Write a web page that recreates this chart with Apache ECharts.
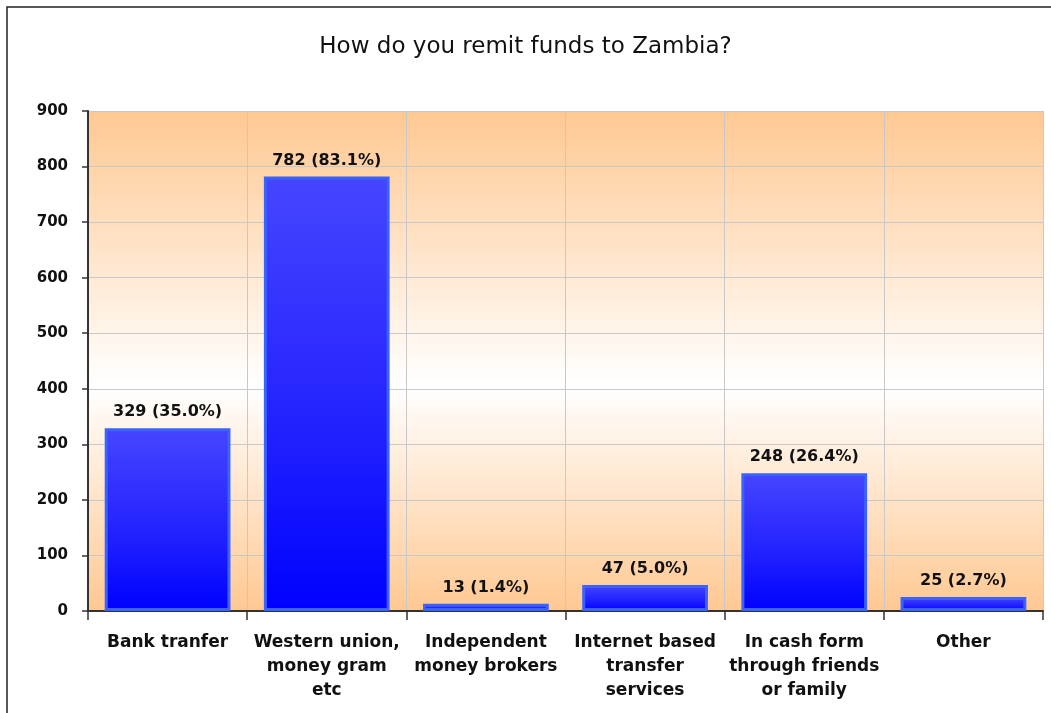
<!DOCTYPE html>
<html>
<head>
<meta charset="utf-8">
<script src="https://cdn.jsdelivr.net/npm/echarts@6/dist/echarts.min.js"></script>
<style>
  html, body { margin: 0; padding: 0; background: #fff; }
  #chart { width: 1051px; height: 713px; }
</style>
</head>
<body>
<div id="chart"></div>
<script>
// survey answers
var categories = [
    "Bank tranfer",
    "Western union,\nmoney gram\netc",
    "Independent\nmoney brokers",
    "Internet based\ntransfer\nservices",
    "In cash form\nthrough friends\nor family",
    "Other"
];
var counts = [329, 782, 13, 47, 248, 25];
var percents = ["35.0%", "83.1%", "1.4%", "5.0%", "26.4%", "2.7%"];
var yTicks = [0, 100, 200, 300, 400, 500, 600, 700, 800, 900];

var chart = echarts.init(document.getElementById("chart"));

var peach = "#FFC892";

chart.setOption({
    animation: false,
    backgroundColor: "#fff",
    title: {
        text: "How do you remit funds to Zambia?",
        left: "center",
        top: 31,
        textStyle: {
            fontFamily: "DejaVu Sans",
            fontWeight: "normal",
            fontSize: 23,
            color: "#111"
        }
    },
    graphic: [{
        type: "rect",
        shape: { x: 7, y: 7, width: 1200, height: 900 },
        style: { fill: "none", stroke: "#222", lineWidth: 1.5 },
        silent: true
    }],
    grid: {
        left: 88,
        right: 8,
        top: 111,
        bottom: 102,
        show: true,
        borderWidth: 0,
        backgroundColor: new echarts.graphic.LinearGradient(0, 0, 0, 1, [
            { offset: 0, color: peach },
            { offset: 0.55, color: "#FFFFFF" },
            { offset: 1, color: peach }
        ])
    },
    xAxis: {
        type: "category",
        data: categories,
        axisLine: { lineStyle: { color: "#333", width: 2 } },
        axisTick: { show: true, length: 9, lineStyle: { color: "#333", width: 1.5 } },
        splitLine: { show: true, lineStyle: { color: "#c8c8c8", width: 1 } },
        axisLabel: {
            interval: 0,
            margin: 20,
            fontFamily: "DejaVu Sans",
            fontWeight: "bold",
            fontSize: 17,
            lineHeight: 24,
            color: "#111"
        }
    },
    yAxis: {
        type: "value",
        min: yTicks[0],
        max: yTicks[yTicks.length - 1],
        interval: 100,
        axisLine: { show: true, lineStyle: { color: "#333", width: 2 } },
        axisTick: { show: true, length: 6, lineStyle: { color: "#333", width: 1.5 } },
        splitLine: { show: true, lineStyle: { color: "#c8c8c8", width: 1 } },
        axisLabel: {
            margin: 20,
            fontFamily: "DejaVu Sans",
            fontWeight: "bold",
            fontSize: 15,
            color: "#111"
        }
    },
    series: [{
        type: "bar",
        data: counts,
        barWidth: "79%",
        itemStyle: {
            color: new echarts.graphic.LinearGradient(0, 0, 0, 1, [
                { offset: 0, color: "#4646FF" },
                { offset: 0.6, color: "#2020FF" },
                { offset: 1, color: "#0000FF" }
            ]),
            borderColor: "#3A62FF",
            borderWidth: 3
        },
        label: {
            show: true,
            position: "top",
            distance: 8,
            fontFamily: "DejaVu Sans",
            fontWeight: "bold",
            fontSize: 16,
            color: "#111",
            formatter: function(p) {
                return p.value + " (" + percents[p.dataIndex] + ")";
            }
        }
    }]
});
</script>
</body>
</html>
